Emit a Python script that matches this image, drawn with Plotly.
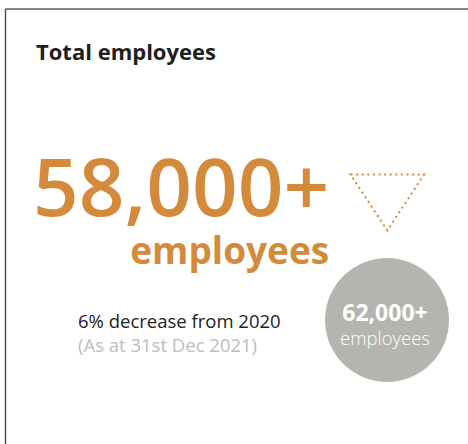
import plotly.graph_objects as go

# Headline figures
title = "Total employees"
current_total = 58000
previous_total = 62000
previous_year = 2020
as_at_label = "(As at 31st Dec 2021)"
unit_label = "employees"

change_pct = round((previous_total - current_total) / previous_total * 100)

ORANGE = "#D48A3B"
GREY_CIRCLE = "#B5B5B0"
FONT = "Open Sans"

W, H = 468, 444

fig = go.Figure()

shapes = [
    # card frame (top and left edges)
    dict(type="line", x0=5.5, y0=9, x1=W, y1=9, line=dict(color="#5a5a5a", width=1.6)),
    dict(type="line", x0=5.5, y0=9, x1=5.5, y1=H, line=dict(color="#4a4a4a", width=1.4)),
    # grey circle for previous year
    dict(type="circle", x0=325, y0=258, x1=449, y1=382,
         fillcolor=GREY_CIRCLE, line=dict(width=0), layer="below"),
    # dotted down-pointing triangle
    dict(type="path", path="M 350.5 174.5 L 424 174.5 L 387.3 230.5 Z",
         line=dict(color=ORANGE, width=2, dash="2px,3.6px")),
]

headline = (f"<span style='font-size:80px;font-weight:600'>{current_total:,}+</span>"
            f"<br><b>{unit_label}</b>")
change_text = (f"{change_pct}% decrease from {previous_year}"
               f"<br><span style='color:#BDBDBD'>{as_at_label}</span>")
previous_text = (f"<span style='font-size:23px;font-weight:700'>{previous_total:,}+</span>"
                 f"<br>{unit_label}")

annotations = [
    dict(text=title, x=34, y=51, xanchor="left", yanchor="middle",
         font=dict(family=FONT, size=22, color="#1e1e1e", weight=700)),
    dict(text=headline, x=331, y=202, xanchor="right", yanchor="middle", align="right",
         font=dict(family=FONT, size=37, color=ORANGE)),
    dict(text=change_text, x=76, y=332.5, xanchor="left", yanchor="middle", align="left",
         font=dict(family=FONT, size=18.5, color="#222222")),
    dict(text=previous_text, x=385, y=323, xanchor="center", yanchor="middle", align="center",
         font=dict(family=FONT, size=18.5, color="white", weight=300)),
]

for a in annotations:
    a.update(xref="x", yref="y", showarrow=False)

fig.update_layout(
    width=W, height=H,
    margin=dict(l=0, r=0, t=0, b=0),
    paper_bgcolor="white", plot_bgcolor="white",
    xaxis=dict(range=[0, W], visible=False, fixedrange=True),
    yaxis=dict(range=[H, 0], visible=False, fixedrange=True),
    shapes=shapes,
    annotations=annotations,
    showlegend=False,
)

fig.write_html("out.html", config={"displayModeBar": False})
